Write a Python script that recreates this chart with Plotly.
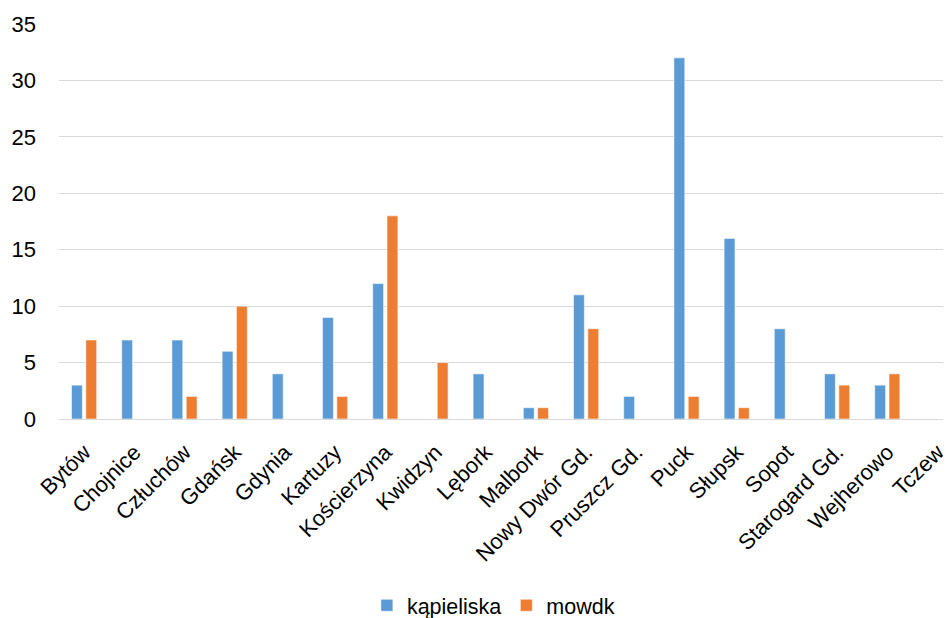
import plotly.graph_objects as go

categories = ["Bytów", "Chojnice", "Człuchów", "Gdańsk", "Gdynia", "Kartuzy", "Kościerzyna",
              "Kwidzyn", "Lębork", "Malbork", "Nowy Dwór Gd.", "Pruszcz Gd.", "Puck", "Słupsk",
              "Sopot", "Starogard Gd.", "Wejherowo", "Tczew"]
kapieliska = [3, 7, 7, 6, 4, 9, 12, 0, 4, 1, 11, 2, 32, 16, 8, 4, 3, 0]
mowdk = [7, 0, 2, 10, 0, 2, 18, 5, 0, 1, 8, 0, 2, 1, 0, 3, 4, 0]
y_ticks = [0, 5, 10, 15, 20, 25, 30, 35]

FONT = "Liberation Sans, Arial, sans-serif"

fig = go.Figure()
fig.add_trace(go.Bar(x=categories, y=kapieliska, name="kąpieliska",
                     marker=dict(color="#5B9BD5", line=dict(color="rgba(255,255,255,0.55)", width=1))))
fig.add_trace(go.Bar(x=categories, y=mowdk, name="mowdk",
                     marker=dict(color="#ED7D31", line=dict(color="rgba(255,255,255,0.55)", width=1))))

# page body has an 8px default margin; compensate so the plot lands where the reference has it
plot_w = 943 - 51
cat_w = 50.2
fig.update_layout(
    width=943, height=610,
    margin=dict(l=51, r=0, t=16, b=198.5, autoexpand=False),
    paper_bgcolor="white", plot_bgcolor="white",
    barmode="group", bargap=0.43, bargroupgap=0.24,
    font=dict(family=FONT, size=21, color="#000000"),
    showlegend=True,
    legend=dict(orientation="h", x=0.487, xanchor="center", y=-0.4716, yanchor="middle",
                font=dict(family=FONT, size=21.5, color="#000000"),
                itemwidth=30, tracegroupgap=0, traceorder="normal"),
    xaxis=dict(range=[-0.5, -0.5 + plot_w / cat_w], tickangle=-45, showgrid=False,
               showline=False, ticks="", automargin=False, ticklabelstandoff=15,
               tickfont=dict(family=FONT, size=22, color="#000000")),
    yaxis=dict(range=[0, 35], tickvals=y_ticks, showgrid=True, gridcolor="#D9D9D9", gridwidth=1.3,
               zeroline=True, zerolinecolor="#D9D9D9", zerolinewidth=1.3, showline=False,
               ticks="", automargin=False, ticklabelstandoff=22,
               tickfont=dict(family=FONT, size=22, color="#000000")),
)

fig.write_html("out.html")
